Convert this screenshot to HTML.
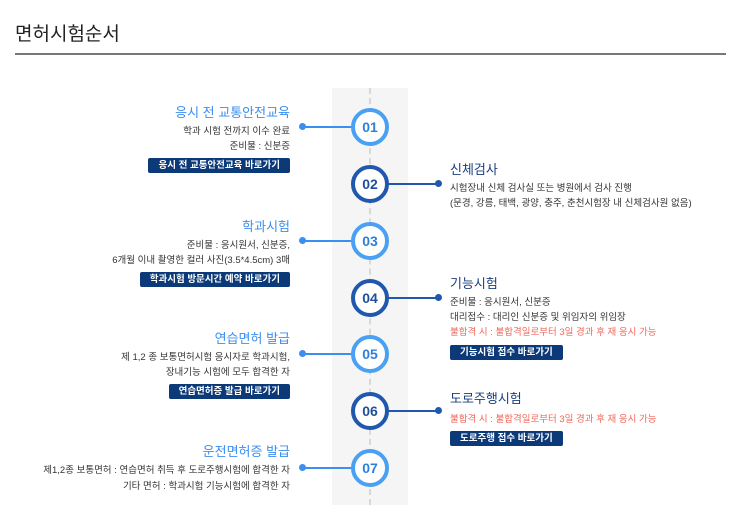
<!DOCTYPE html>
<html><head><meta charset="utf-8"><style>
body{margin:0;width:743px;height:507px;background:#fff;position:relative;overflow:hidden;font-family:"Liberation Sans","Noto Sans CJK KR",sans-serif;}
.a{position:absolute;white-space:nowrap;}
.h{left:15px;top:19px;font-size:19px;color:#222;}
.hl{left:15px;top:53px;width:711px;height:2px;background:#777;}
.band{left:332px;top:88px;width:76px;height:417px;background:#f5f5f5;}
.dash{left:369px;top:88px;width:0;height:417px;border-left:2px dashed #d8d8d8;}
.c{width:30px;height:30px;border-radius:50%;background:#fff;border:4px solid #4aa0f2;font-size:14px;font-weight:bold;color:#2f7fd8;text-align:center;line-height:30px;left:351px;}
.c.d{border-color:#1f58ad;color:#1f4f9a;}
.ln{height:2px;}
.dot{width:7px;height:7px;border-radius:50%;}
.L{right:453px;text-align:right;}
.R{left:450px;}
.t{font-size:13px;line-height:18px;}
.tl{color:#3b8ff0;}
.tr{color:#1a3f7f;}
.b{font-size:9.5px;color:#333;line-height:15px;}
.red{color:#f0685a;}
.btn{background:#0c3a78;color:#fff;font-size:9.5px;font-weight:bold;line-height:15px;border-radius:2px;padding:0 10px;}
</style></head><body>
<div class="a h">면허시험순서</div>
<div class="a hl"></div>
<div class="a band"></div>
<div class="a dash"></div>

<div class="a ln" style="left:302px;top:126px;width:55px;background:#3b8ff0"></div><div class="a dot" style="left:299px;top:123px;background:#3b8ff0"></div>
<div class="a ln" style="left:383px;top:183px;width:55px;background:#1f58ad"></div><div class="a dot" style="left:435px;top:180px;background:#1f58ad"></div>
<div class="a ln" style="left:302px;top:240px;width:55px;background:#3b8ff0"></div><div class="a dot" style="left:299px;top:237px;background:#3b8ff0"></div>
<div class="a ln" style="left:383px;top:297px;width:55px;background:#1f58ad"></div><div class="a dot" style="left:435px;top:294px;background:#1f58ad"></div>
<div class="a ln" style="left:302px;top:353px;width:55px;background:#3b8ff0"></div><div class="a dot" style="left:299px;top:350px;background:#3b8ff0"></div>
<div class="a ln" style="left:383px;top:410px;width:55px;background:#1f58ad"></div><div class="a dot" style="left:435px;top:407px;background:#1f58ad"></div>
<div class="a ln" style="left:302px;top:467px;width:55px;background:#3b8ff0"></div><div class="a dot" style="left:299px;top:464px;background:#3b8ff0"></div>

<div class="a c" style="top:108px">01</div>
<div class="a c d" style="top:165px">02</div>
<div class="a c" style="top:222px">03</div>
<div class="a c d" style="top:279px">04</div>
<div class="a c" style="top:335px">05</div>
<div class="a c d" style="top:392px">06</div>
<div class="a c" style="top:449px">07</div>

<div class="a L t tl" style="top:104px">응시 전 교통안전교육</div>
<div class="a L b" style="top:124px">학과 시험 전까지 이수 완료</div>
<div class="a L b" style="top:139px">준비물 : 신분증</div>
<div class="a L btn" style="top:158px">응시 전 교통안전교육 바로가기</div>

<div class="a L t tl" style="top:218px">학과시험</div>
<div class="a L b" style="top:238px">준비물 : 응시원서, 신분증,</div>
<div class="a L b" style="top:253px">6개월 이내 촬영한 컬러 사진(3.5*4.5cm) 3매</div>
<div class="a L btn" style="top:272px">학과시험 방문시간 예약 바로가기</div>

<div class="a L t tl" style="top:330px">연습면허 발급</div>
<div class="a L b" style="top:350px">제 1,2 종 보통면허시험 응시자로 학과시험,</div>
<div class="a L b" style="top:365px">장내기능 시험에 모두 합격한 자</div>
<div class="a L btn" style="top:384px">연습면허증 발급 바로가기</div>

<div class="a L t tl" style="top:443px">운전면허증 발급</div>
<div class="a L b" style="top:463px">제1,2종 보통면허 : 연습면허 취득 후 도로주행시험에 합격한 자</div>
<div class="a L b" style="top:479px">기타 면허 : 학과시험 기능시험에 합격한 자</div>

<div class="a R t tr" style="top:161px">신체검사</div>
<div class="a R b" style="top:181px">시험장내 신체 검사실 또는 병원에서 검사 진행</div>
<div class="a R b" style="top:196px">(문경, 강릉, 태백, 광양, 충주, 춘천시험장 내 신체검사원 없음)</div>

<div class="a R t tr" style="top:275px">기능시험</div>
<div class="a R b" style="top:295px">준비물 : 응시원서, 신분증</div>
<div class="a R b" style="top:310px">대리접수 : 대리인 신분증 및 위임자의 위임장</div>
<div class="a R b red" style="top:325px">불합격 시 : 불합격일로부터 3일 경과 후 재 응시 가능</div>
<div class="a R btn" style="top:345px">기능시험 접수 바로가기</div>

<div class="a R t tr" style="top:390px">도로주행시험</div>
<div class="a R b red" style="top:412px">불합격 시 : 불합격일로부터 3일 경과 후 재 응시 가능</div>
<div class="a R btn" style="top:431px">도로주행 접수 바로가기</div>
</body></html>
